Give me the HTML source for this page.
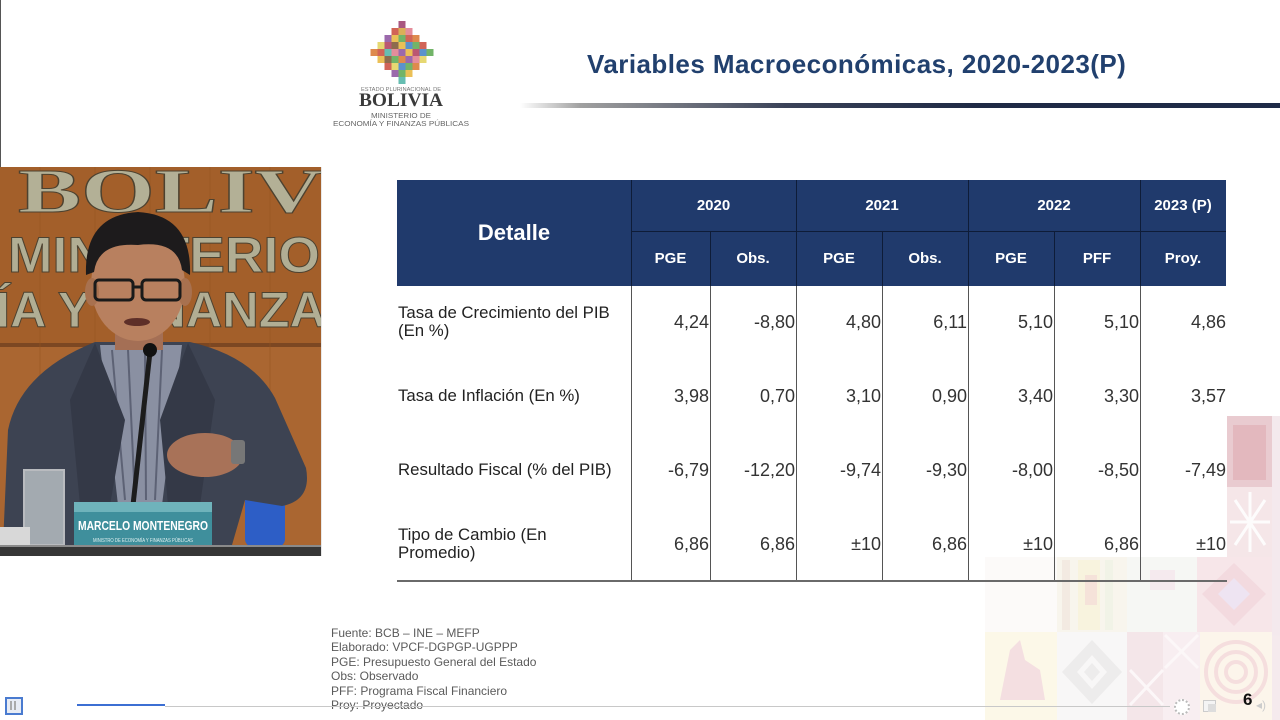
<!DOCTYPE html>
<html>
<head>
<meta charset="utf-8">
<style>
  html,body{margin:0;padding:0;}
  body{width:1280px;height:720px;overflow:hidden;background:#fff;position:relative;font-family:"Liberation Sans",Arial,sans-serif;}
  .a{position:absolute;}
  .hd{position:absolute;background:#203a6c;color:#fff;font-weight:bold;text-align:center;font-size:15px;}
  .vl{position:absolute;width:1px;}
  .num{position:absolute;text-align:right;font-size:18px;color:#333;line-height:20px;height:20px;}
  .lab{position:absolute;left:398px;font-size:16.8px;color:#222;line-height:18px;}
  .fn{position:absolute;left:331px;top:626px;font-size:12px;line-height:14.4px;color:#5a5a5a;white-space:nowrap;}
</style>
</head>
<body>

<!-- textile background -->
<svg class="a" style="left:0;top:0;" width="1280" height="720" viewBox="0 0 1280 720">
  <g opacity="0.85">
  <rect x="1227" y="416" width="45" height="71" fill="#e6c3c8"/>
  <rect x="1233" y="425" width="33" height="55" fill="#dba2aa" opacity="0.7"/>
  <rect x="1227" y="487" width="45" height="70" fill="#f4e2e5"/>
  <g stroke="#ffffff" stroke-width="3" opacity="0.9">
    <line x1="1230" y1="522" x2="1270" y2="522"/><line x1="1250" y1="492" x2="1250" y2="552"/>
    <line x1="1235" y1="500" x2="1265" y2="545"/><line x1="1265" y1="500" x2="1235" y2="545"/>
  </g>
  <rect x="1272" y="416" width="8" height="304" fill="#f3e6ea"/>
  </g>
  <g opacity="0.6">
  <rect x="985" y="557" width="72" height="75" fill="#fbf8f6"/>
  <rect x="1057" y="557" width="70" height="75" fill="#f5efe2"/>
  <g opacity="0.8">
    <rect x="1062" y="560" width="8" height="70" fill="#ead9cc"/>
    <rect x="1078" y="560" width="22" height="70" fill="#f6ecc4"/>
    <rect x="1105" y="560" width="8" height="70" fill="#e6ecd6"/>
    <rect x="1085" y="575" width="12" height="30" fill="#efc9b8"/>
  </g>
  <rect x="1127" y="557" width="70" height="75" fill="#f1f3ee"/>
  <rect x="1150" y="570" width="25" height="20" fill="#f0dde3"/>
  <rect x="1197" y="557" width="75" height="75" fill="#f3d6dc"/>
  <polygon points="1234,563 1266,594 1234,626 1202,594" fill="#ecc2ca"/>
  <polygon points="1234,578 1250,594 1234,610 1218,594" fill="#e4d3ea"/>
  <rect x="985" y="632" width="72" height="88" fill="#fbf5da"/>
  <path d="M1000,700 L1010,650 L1020,640 L1025,660 L1040,670 L1045,700 Z" fill="#ebbfcb" opacity="0.8"/>
  <rect x="1057" y="632" width="70" height="88" fill="#f4f2f2"/>
  <polygon points="1092,640 1122,672 1092,704 1062,672" fill="#e2e0e0"/>
  <polygon points="1092,655 1107,672 1092,689 1077,672" fill="#f4f2f2"/>
  <polygon points="1092,663 1100,672 1092,681 1084,672" fill="#e2e0e0"/>
  <rect x="1127" y="632" width="36" height="88" fill="#eed6dc"/>
  <rect x="1163" y="632" width="37" height="88" fill="#f4e4e8"/>
  <g stroke="#fbf3f5" stroke-width="3">
    <line x1="1165" y1="635" x2="1198" y2="668"/><line x1="1198" y1="635" x2="1165" y2="668"/>
    <line x1="1130" y1="670" x2="1163" y2="705"/><line x1="1163" y1="670" x2="1130" y2="705"/>
  </g>
  <rect x="1200" y="632" width="72" height="88" fill="#fbf0de"/>
  <g fill="none" stroke="#f0c9c9" stroke-width="4">
    <circle cx="1236" cy="672" r="30"/><circle cx="1236" cy="672" r="20"/><circle cx="1236" cy="672" r="10"/>
  </g>
  </g>
</svg>

<!-- left edge line -->
<div class="a" style="left:0;top:0;width:1px;height:167px;background:#555;"></div>

<!-- logo -->
<svg class="a" style="left:330px;top:15px;" width="150" height="115" viewBox="330 15 150 115">
  <g opacity="0.85">
    <rect x="398.5" y="21" width="7" height="7" fill="#9b3a6a"/>
    <rect x="391.5" y="28" width="7" height="7" fill="#c94a3a"/><rect x="398.5" y="28" width="7" height="7" fill="#d4a23a"/><rect x="405.5" y="28" width="7" height="7" fill="#e07a8a"/>
    <rect x="384.5" y="35" width="7" height="7" fill="#8a4f9e"/><rect x="391.5" y="35" width="7" height="7" fill="#e8b63a"/><rect x="398.5" y="35" width="7" height="7" fill="#5aa84e"/><rect x="405.5" y="35" width="7" height="7" fill="#c94a3a"/><rect x="412.5" y="35" width="7" height="7" fill="#d9762e"/>
    <rect x="377.5" y="42" width="7" height="7" fill="#e2d25a"/><rect x="384.5" y="42" width="7" height="7" fill="#b03a5a"/><rect x="391.5" y="42" width="7" height="7" fill="#7a5230"/><rect x="398.5" y="42" width="7" height="7" fill="#e8b63a"/><rect x="405.5" y="42" width="7" height="7" fill="#3f7fc4"/><rect x="412.5" y="42" width="7" height="7" fill="#5aa84e"/><rect x="419.5" y="42" width="7" height="7" fill="#c94a3a"/>
    <rect x="370.5" y="49" width="7" height="7" fill="#d9762e"/><rect x="377.5" y="49" width="7" height="7" fill="#c94a3a"/><rect x="384.5" y="49" width="7" height="7" fill="#4cb3a5"/><rect x="391.5" y="49" width="7" height="7" fill="#e07a8a"/><rect x="398.5" y="49" width="7" height="7" fill="#8a4f9e"/><rect x="405.5" y="49" width="7" height="7" fill="#e8b63a"/><rect x="412.5" y="49" width="7" height="7" fill="#b03a5a"/><rect x="419.5" y="49" width="7" height="7" fill="#3f7fc4"/><rect x="426.5" y="49" width="7" height="7" fill="#5aa84e"/>
    <rect x="377.5" y="56" width="7" height="7" fill="#e8b63a"/><rect x="384.5" y="56" width="7" height="7" fill="#7a5230"/><rect x="391.5" y="56" width="7" height="7" fill="#5aa84e"/><rect x="398.5" y="56" width="7" height="7" fill="#d9762e"/><rect x="405.5" y="56" width="7" height="7" fill="#8a4f9e"/><rect x="412.5" y="56" width="7" height="7" fill="#e07a8a"/><rect x="419.5" y="56" width="7" height="7" fill="#e2d25a"/>
    <rect x="384.5" y="63" width="7" height="7" fill="#c94a3a"/><rect x="391.5" y="63" width="7" height="7" fill="#e2d25a"/><rect x="398.5" y="63" width="7" height="7" fill="#3f7fc4"/><rect x="405.5" y="63" width="7" height="7" fill="#5aa84e"/><rect x="412.5" y="63" width="7" height="7" fill="#d9762e"/>
    <rect x="391.5" y="70" width="7" height="7" fill="#8a4f9e"/><rect x="398.5" y="70" width="7" height="7" fill="#5aa84e"/><rect x="405.5" y="70" width="7" height="7" fill="#e8b63a"/>
    <rect x="398.5" y="77" width="7" height="7" fill="#4cb3a5"/>
  </g>
  <text x="401" y="91" text-anchor="middle" font-family="Liberation Sans, sans-serif" font-size="5" fill="#777" textLength="80" lengthAdjust="spacingAndGlyphs">ESTADO PLURINACIONAL DE</text>
  <text x="401" y="106" text-anchor="middle" font-family="Liberation Serif, serif" font-weight="bold" font-size="19" fill="#3a3a3a" textLength="84" lengthAdjust="spacingAndGlyphs">BOLIVIA</text>
  <text x="401" y="118" text-anchor="middle" font-family="Liberation Sans, sans-serif" font-size="7" fill="#666" textLength="60" lengthAdjust="spacingAndGlyphs">MINISTERIO DE</text>
  <text x="401" y="126" text-anchor="middle" font-family="Liberation Sans, sans-serif" font-size="7" fill="#666" textLength="136" lengthAdjust="spacingAndGlyphs">ECONOMÍA Y FINANZAS PÚBLICAS</text>
</svg>

<!-- title -->
<div class="a" style="left:587px;top:48px;font-size:26px;line-height:32px;font-weight:bold;color:#21406e;white-space:nowrap;letter-spacing:0.45px;">Variables Macroeconómicas, 2020-2023(P)</div>
<div class="a" style="left:520px;top:103px;width:760px;height:5px;background:linear-gradient(to right, rgba(210,210,210,0) 0%, #a0a0a0 8%, #3a4258 35%, #1f2a45 60%, #1f2b48 100%);"></div>

<!-- video -->
<svg class="a" style="left:0;top:167px;" width="322" height="389" viewBox="0 167 322 389">
  <rect x="0" y="167" width="322" height="180" fill="#a35f2a"/>
  <rect x="0" y="345" width="322" height="200" fill="#aa6631"/>
  <rect x="0" y="343" width="322" height="4" fill="#7c4722"/>
  <g stroke="#94531f" stroke-width="1" opacity="0.5">
    <line x1="40" y1="167" x2="40" y2="545"/><line x1="95" y1="167" x2="95" y2="545"/><line x1="150" y1="167" x2="150" y2="545"/><line x1="210" y1="167" x2="210" y2="545"/><line x1="270" y1="167" x2="270" y2="545"/>
  </g>
  <text x="18" y="212" font-family="Liberation Serif, serif" font-weight="bold" font-size="62" fill="#b3b096" stroke="#4d4230" stroke-width="1" textLength="305" lengthAdjust="spacingAndGlyphs">BOLIV</text>
  <text x="8" y="272" font-family="Liberation Sans, sans-serif" font-weight="bold" font-size="50" fill="#b1ae94" stroke="#4d4230" stroke-width="1" textLength="312" lengthAdjust="spacingAndGlyphs">MINISTERIO</text>
  <text x="-4" y="327" font-family="Liberation Sans, sans-serif" font-weight="bold" font-size="50" fill="#b1ae94" stroke="#4d4230" stroke-width="1" textLength="330" lengthAdjust="spacingAndGlyphs">ÍA Y FINANZA</text>
  <!-- chair -->
  <rect x="245" y="492" width="40" height="55" rx="8" fill="#2d5ec6"/>
  <!-- suit -->
  <path d="M3,545 L8,430 Q20,372 95,342 L190,342 Q252,356 275,398 L306,468 Q312,500 282,506 L245,500 L232,545 Z" fill="#3d4352"/>
  <polygon points="100,345 182,345 162,505 118,505" fill="#8a90a2"/>
  <g stroke="#5d6275" stroke-width="2">
    <line x1="112" y1="350" x2="125" y2="500"/><line x1="128" y1="350" x2="135" y2="500"/><line x1="145" y1="350" x2="146" y2="500"/><line x1="162" y1="350" x2="155" y2="500"/>
  </g>
  <path d="M95,343 L125,420 L110,505 L80,505 L70,400 Z" fill="#343947"/>
  <path d="M188,343 L160,420 L168,505 L200,505 L215,400 Z" fill="#343947"/>
  <!-- neck & face -->
  <rect x="115" y="318" width="48" height="32" fill="#a46f55"/>
  <ellipse cx="138" cy="285" rx="47" ry="56" fill="#b8805f"/>
  <ellipse cx="92" cy="292" rx="7" ry="14" fill="#a8714f"/>
  <ellipse cx="185" cy="292" rx="7" ry="14" fill="#a8714f"/>
  <path d="M86,275 Q84,215 138,212 Q192,215 190,275 L182,270 Q178,240 138,245 Q98,242 94,272 Z" fill="#1d1b1c"/>
  <g fill="none" stroke="#1a1a1a" stroke-width="3">
    <rect x="95" y="280" width="38" height="20" rx="4"/><rect x="142" y="280" width="38" height="20" rx="4"/>
    <line x1="133" y1="287" x2="142" y2="287"/>
  </g>
  <ellipse cx="137" cy="322" rx="13" ry="4" fill="#5e2f28"/>
  <!-- mic -->
  <line x1="150" y1="352" x2="133" y2="505" stroke="#1c1c1c" stroke-width="5"/>
  <circle cx="150" cy="350" r="7" fill="#111"/>
  <!-- hand -->
  <ellipse cx="205" cy="455" rx="38" ry="22" fill="#a87258"/>
  <rect x="231" y="440" width="14" height="24" rx="3" fill="#777"/>
  <!-- glass -->
  <rect x="24" y="470" width="40" height="75" fill="#cfd6d8" opacity="0.7" stroke="#eeeeee" stroke-width="2"/>
  <rect x="0" y="527" width="30" height="18" fill="#d8d8d8"/>
  <!-- nameplate -->
  <rect x="74" y="502" width="138" height="48" fill="#3f8f9c"/>
  <rect x="74" y="502" width="138" height="10" fill="#6fb3bb"/>
  <text x="143" y="530" text-anchor="middle" font-family="Liberation Sans, sans-serif" font-weight="bold" font-size="13" fill="#ffffff" textLength="130" lengthAdjust="spacingAndGlyphs">MARCELO MONTENEGRO</text>
  <text x="143" y="542" text-anchor="middle" font-family="Liberation Sans, sans-serif" font-size="5" fill="#e0f0f0" textLength="100" lengthAdjust="spacingAndGlyphs">MINISTRO DE ECONOMÍA Y FINANZAS PÚBLICAS</text>
  <!-- desk -->
  <rect x="0" y="545" width="322" height="11" fill="#363636"/>
  <rect x="0" y="545" width="322" height="2" fill="#8a8a8a"/>
  <rect x="321" y="167" width="1" height="389" fill="#e8e8e8"/>
</svg>

<!-- table header -->
<div class="hd" style="left:397px;top:180px;width:829px;height:106px;"></div>
<div class="hd" style="left:397px;top:180px;width:234px;height:106px;line-height:106px;font-size:22px;background:transparent;">Detalle</div>
<div class="hd" style="left:631px;top:180px;width:165px;height:51px;line-height:51px;background:transparent;">2020</div>
<div class="hd" style="left:796px;top:180px;width:172px;height:51px;line-height:51px;background:transparent;">2021</div>
<div class="hd" style="left:968px;top:180px;width:172px;height:51px;line-height:51px;background:transparent;">2022</div>
<div class="hd" style="left:1140px;top:180px;width:86px;height:51px;line-height:51px;background:transparent;">2023 (P)</div>
<div class="hd" style="left:631px;top:231px;width:79px;height:55px;line-height:55px;background:transparent;">PGE</div>
<div class="hd" style="left:710px;top:231px;width:86px;height:55px;line-height:55px;background:transparent;">Obs.</div>
<div class="hd" style="left:796px;top:231px;width:86px;height:55px;line-height:55px;background:transparent;">PGE</div>
<div class="hd" style="left:882px;top:231px;width:86px;height:55px;line-height:55px;background:transparent;">Obs.</div>
<div class="hd" style="left:968px;top:231px;width:86px;height:55px;line-height:55px;background:transparent;">PGE</div>
<div class="hd" style="left:1054px;top:231px;width:86px;height:55px;line-height:55px;background:transparent;">PFF</div>
<div class="hd" style="left:1140px;top:231px;width:86px;height:55px;line-height:55px;background:transparent;">Proy.</div>
<!-- header lines -->
<div class="vl" style="left:631px;top:180px;height:106px;background:#0e1c38;"></div>
<div class="vl" style="left:796px;top:180px;height:106px;background:#0e1c38;"></div>
<div class="vl" style="left:968px;top:180px;height:106px;background:#0e1c38;"></div>
<div class="vl" style="left:1140px;top:180px;height:106px;background:#0e1c38;"></div>
<div class="vl" style="left:710px;top:231px;height:55px;background:#0e1c38;"></div>
<div class="vl" style="left:882px;top:231px;height:55px;background:#0e1c38;"></div>
<div class="vl" style="left:1054px;top:231px;height:55px;background:#0e1c38;"></div>
<div class="a" style="left:631px;top:231px;width:595px;height:1px;background:#0e1c38;"></div>

<!-- body lines -->
<div class="vl" style="left:631px;top:286px;height:295px;background:#555;"></div>
<div class="vl" style="left:710px;top:286px;height:295px;background:#555;"></div>
<div class="vl" style="left:796px;top:286px;height:295px;background:#555;"></div>
<div class="vl" style="left:882px;top:286px;height:295px;background:#555;"></div>
<div class="vl" style="left:968px;top:286px;height:295px;background:#555;"></div>
<div class="vl" style="left:1054px;top:286px;height:295px;background:#555;"></div>
<div class="vl" style="left:1140px;top:286px;height:295px;background:#555;"></div>
<div class="a" style="left:397px;top:580px;width:830px;height:2px;background:#6a6a6a;"></div>

<!-- labels -->
<div class="lab" style="top:304px;">Tasa de Crecimiento del PIB<br>(En %)</div>
<div class="lab" style="top:387px;">Tasa de Inflación (En %)</div>
<div class="lab" style="top:461px;">Resultado Fiscal (% del PIB)</div>
<div class="lab" style="top:526px;">Tipo de Cambio (En<br>Promedio)</div>

<!-- row 1 -->
<div class="num" style="left:631px;width:78px;top:312px;">4,24</div>
<div class="num" style="left:710px;width:85px;top:312px;">-8,80</div>
<div class="num" style="left:796px;width:85px;top:312px;">4,80</div>
<div class="num" style="left:882px;width:85px;top:312px;">6,11</div>
<div class="num" style="left:968px;width:85px;top:312px;">5,10</div>
<div class="num" style="left:1054px;width:85px;top:312px;">5,10</div>
<div class="num" style="left:1140px;width:86px;top:312px;">4,86</div>
<!-- row 2 -->
<div class="num" style="left:631px;width:78px;top:386px;">3,98</div>
<div class="num" style="left:710px;width:85px;top:386px;">0,70</div>
<div class="num" style="left:796px;width:85px;top:386px;">3,10</div>
<div class="num" style="left:882px;width:85px;top:386px;">0,90</div>
<div class="num" style="left:968px;width:85px;top:386px;">3,40</div>
<div class="num" style="left:1054px;width:85px;top:386px;">3,30</div>
<div class="num" style="left:1140px;width:86px;top:386px;">3,57</div>
<!-- row 3 -->
<div class="num" style="left:631px;width:78px;top:460px;">-6,79</div>
<div class="num" style="left:710px;width:85px;top:460px;">-12,20</div>
<div class="num" style="left:796px;width:85px;top:460px;">-9,74</div>
<div class="num" style="left:882px;width:85px;top:460px;">-9,30</div>
<div class="num" style="left:968px;width:85px;top:460px;">-8,00</div>
<div class="num" style="left:1054px;width:85px;top:460px;">-8,50</div>
<div class="num" style="left:1140px;width:86px;top:460px;">-7,49</div>
<!-- row 4 -->
<div class="num" style="left:631px;width:78px;top:534px;">6,86</div>
<div class="num" style="left:710px;width:85px;top:534px;">6,86</div>
<div class="num" style="left:796px;width:85px;top:534px;">±10</div>
<div class="num" style="left:882px;width:85px;top:534px;">6,86</div>
<div class="num" style="left:968px;width:85px;top:534px;">±10</div>
<div class="num" style="left:1054px;width:85px;top:534px;">6,86</div>
<div class="num" style="left:1140px;width:86px;top:534px;">±10</div>

<!-- footnotes -->
<div class="fn">Fuente: BCB – INE – MEFP<br>Elaborado: VPCF-DGPGP-UGPPP<br>PGE: Presupuesto General del Estado<br>Obs: Observado<br>PFF: Programa Fiscal Financiero<br>Proy: Proyectado</div>

<!-- player bar -->
<div class="a" style="left:165px;top:706px;width:1005px;height:1px;background:#c8c8c8;"></div>
<div class="a" style="left:77px;top:704px;width:88px;height:2px;background:#3c6fd3;"></div>
<div class="a" style="left:5px;top:697px;width:14px;height:14px;border:2px solid #4a7bd0;background:#e8ecf4;"></div>
<div class="a" style="left:10px;top:701px;width:2px;height:9px;background:#aaa;"></div>
<div class="a" style="left:14px;top:701px;width:2px;height:9px;background:#aaa;"></div>
<div class="a" style="left:1174px;top:699px;width:12px;height:12px;border-radius:50%;background:#fff;border:2px dotted #bbb;"></div>
<div class="a" style="left:1203px;top:700px;width:11px;height:10px;border:1px solid #ccc;background:#f4f4f4;"></div>
<div class="a" style="left:1208px;top:704px;width:8px;height:8px;background:#ddd;"></div>
<div class="a" style="left:1243px;top:690px;font-size:17px;font-weight:bold;color:#111;line-height:20px;">6</div>
<div class="a" style="left:1256px;top:698px;font-size:12px;color:#ccc;line-height:14px;">◂)</div>

</body>
</html>
